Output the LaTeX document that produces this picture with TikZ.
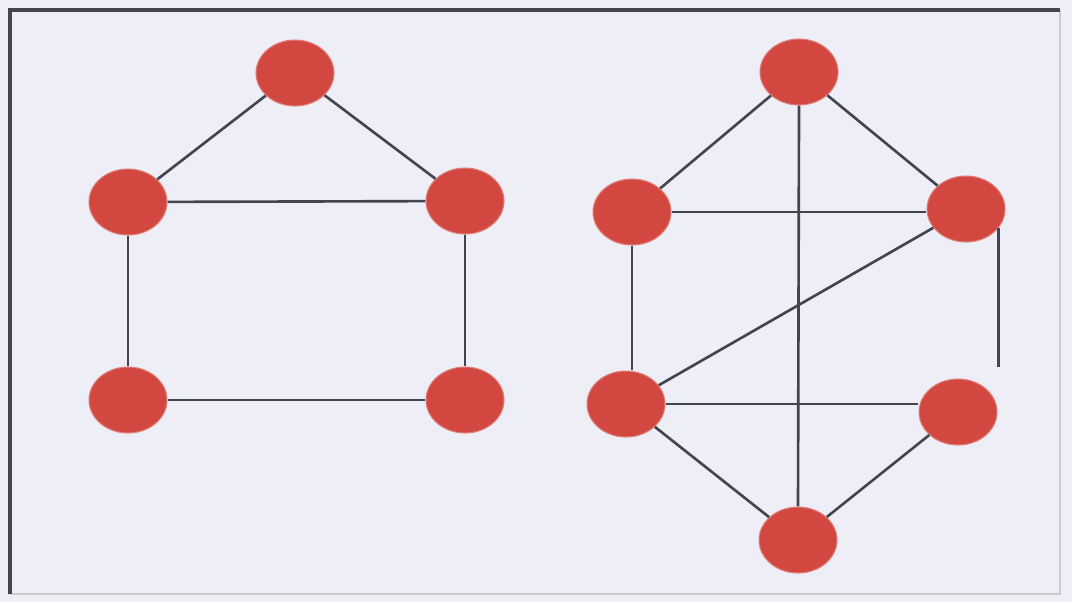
\documentclass[tikz,border=0pt]{standalone}
\usetikzlibrary{shapes.geometric}

\definecolor{paper}{RGB}{238,239,246}
\definecolor{dotred}{RGB}{210,72,64}
\definecolor{edgegray}{RGB}{68,68,80}

\tikzset{
  vert/.style={ellipse, fill=dotred, draw=dotred!70, line width=0.3pt,
    minimum width=0.78cm, minimum height=0.66cm, inner sep=0pt},
  edge/.style={draw=edgegray, line width=0.75pt}
}

\begin{document}
\begin{tikzpicture}
  \fill[paper] (0,0) rectangle (10.72,6.02);
  \useasboundingbox (0,0) rectangle (10.72,6.02);
  % frame
  \draw[gray!40, line width=0.6pt] (10.60,5.92) -- (10.60,0.08) -- (0.10,0.08);
  \draw[edgegray, line width=0.9pt] (0.10,0.08) -- (0.10,5.92) -- (10.60,5.92);

  % left graph
  \node[vert] (a1) at (2.95,5.29) {};
  \node[vert] (a2) at (1.28,4.00) {};
  \node[vert] (a3) at (4.65,4.01) {};
  \node[vert] (a4) at (1.28,2.02) {};
  \node[vert] (a5) at (4.65,2.02) {};

  \draw[edge] (a1) -- (a2);
  \draw[edge] (a1) -- (a3);
  \draw[edge] (a2) -- (a3);
  \draw[edge] (a2) -- (a4);
  \draw[edge] (a3) -- (a5);
  \draw[edge] (a4) -- (a5);

  % right graph
  \node[vert] (b1) at (7.99,5.30) {};
  \node[vert] (b2) at (6.32,3.90) {};
  \node[vert] (b3) at (9.66,3.93) {};
  \node[vert] (b4) at (6.26,1.98) {};
  \node[vert] (b5) at (9.58,1.90) {};
  \node[vert] (b6) at (7.98,0.62) {};
  \coordinate (btail) at (9.99,2.35);

  \draw[edge] (b1) -- (b2);
  \draw[edge] (b1) -- (b3);
  \draw[edge] (b1.south) -- (b6.north);
  \draw[edge] (b2.east) -- (b2.east -| b3.west);
  \draw[edge] (b2.south) -- (b2.south |- b4.north);
  \draw[edge] (b3) -- (b4);
  \draw[edge] (b4.east) -- (b4.east -| b5.west);
  \draw[edge] (b4) -- (b6);
  \draw[edge] (b5) -- (b6);
  \draw[edge] (b3.-30) -- (b3.-30 |- btail);
\end{tikzpicture}
\end{document}
